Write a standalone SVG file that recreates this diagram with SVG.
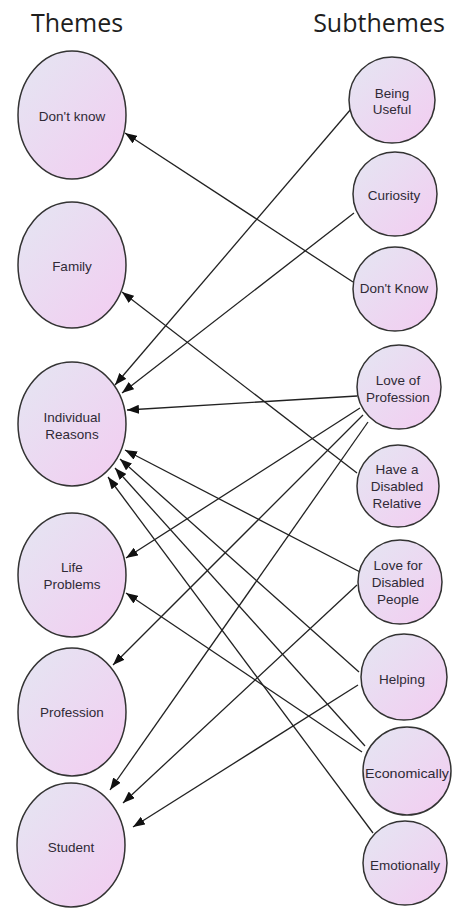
<svg xmlns="http://www.w3.org/2000/svg" width="453" height="909" viewBox="0 0 453 909">
  <defs>
    <linearGradient id="nodeFill" x1="0" y1="0" x2="1" y2="1">
      <stop offset="0" stop-color="#e4e6f2"/>
      <stop offset="1" stop-color="#f3ccf1"/>
    </linearGradient>
    <marker id="arrow" markerUnits="userSpaceOnUse" markerWidth="13" markerHeight="9" refX="12" refY="4.5" orient="auto">
      <path d="M0,0 L12,4.5 L0,9 z" fill="#111"/>
    </marker>
  </defs>
  <style>
    .node { fill: url(#nodeFill); stroke: #333; stroke-width: 1.5; }
    .label { font-family: "Liberation Sans", Arial, sans-serif; font-size: 13.5px; fill: #2f2a36; text-anchor: middle; }
    .head { font-family: "Open Sans", "Noto Sans", sans-serif; font-size: 25px; fill: #1e1e1e; text-anchor: middle; }
    .edge { stroke: #222; stroke-width: 1.3; fill: none; marker-end: url(#arrow); }
  </style>

  <rect width="453" height="909" fill="#fff"/>

  <text class="head" x="77" y="32">Themes</text>
  <text class="head" x="379" y="32">Subthemes</text>

  <!-- connectors: subtheme -> theme -->
  <g id="connectors">
    <line class="edge" x1="353" y1="282" x2="125" y2="133"/>
    <line class="edge" x1="351" y1="109" x2="115" y2="385"/>
    <line class="edge" x1="354" y1="213" x2="122" y2="393"/>
    <line class="edge" x1="357" y1="396" x2="127" y2="410"/>
    <line class="edge" x1="360" y1="408" x2="126" y2="558"/>
    <line class="edge" x1="363" y1="415" x2="113" y2="665"/>
    <line class="edge" x1="368" y1="422" x2="110" y2="790"/>
    <line class="edge" x1="357" y1="473" x2="122" y2="292"/>
    <line class="edge" x1="362" y1="573" x2="125" y2="450"/>
    <line class="edge" x1="357" y1="585" x2="123" y2="803"/>
    <line class="edge" x1="359" y1="672" x2="120" y2="459"/>
    <line class="edge" x1="358" y1="685" x2="133" y2="827"/>
    <line class="edge" x1="365" y1="746" x2="115" y2="468"/>
    <line class="edge" x1="362" y1="752" x2="126" y2="593"/>
    <line class="edge" x1="373" y1="833" x2="108" y2="477"/>
  </g>

  <!-- themes -->
  <g id="theme-dont-know">
    <ellipse class="node" cx="72" cy="115" rx="54" ry="64"/>
    <text class="label" x="72" y="120.5">Don't know</text>
  </g>
  <g id="theme-family">
    <ellipse class="node" cx="72" cy="265" rx="54" ry="63"/>
    <text class="label" x="72" y="270.5">Family</text>
  </g>
  <g id="theme-individual-reasons">
    <ellipse class="node" cx="72" cy="424" rx="54" ry="62"/>
    <text class="label" x="72" y="421.5">Individual</text>
    <text class="label" x="72" y="438.5">Reasons</text>
  </g>
  <g id="theme-life-problems">
    <ellipse class="node" cx="72" cy="575" rx="54" ry="62"/>
    <text class="label" x="72" y="571.5">Life</text>
    <text class="label" x="72" y="588.5">Problems</text>
  </g>
  <g id="theme-profession">
    <ellipse class="node" cx="72" cy="712" rx="54" ry="64"/>
    <text class="label" x="72" y="716.5">Profession</text>
  </g>
  <g id="theme-student">
    <ellipse class="node" cx="71" cy="845" rx="54" ry="62"/>
    <text class="label" x="71" y="851.5">Student</text>
  </g>

  <!-- subthemes -->
  <g id="sub-being-useful">
    <circle class="node" cx="392" cy="100" r="43"/>
    <text class="label" x="392" y="97.5">Being</text>
    <text class="label" x="392" y="113.5">Useful</text>
  </g>
  <g id="sub-curiosity">
    <circle class="node" cx="395" cy="194" r="42"/>
    <text class="label" x="394" y="199.5">Curiosity</text>
  </g>
  <g id="sub-dont-know">
    <circle class="node" cx="395" cy="289" r="42"/>
    <text class="label" x="394" y="292.5">Don't Know</text>
  </g>
  <g id="sub-love-of-profession">
    <circle class="node" cx="399" cy="387" r="42"/>
    <text class="label" x="398" y="384.5">Love of</text>
    <text class="label" x="398" y="401.5">Profession</text>
  </g>
  <g id="sub-disabled-relative">
    <circle class="node" cx="398" cy="486" r="41"/>
    <text class="label" x="397" y="473.5">Have a</text>
    <text class="label" x="397" y="490.5">Disabled</text>
    <text class="label" x="397" y="507.5">Relative</text>
  </g>
  <g id="sub-love-for-disabled">
    <circle class="node" cx="400" cy="582" r="42"/>
    <text class="label" x="398" y="569.5">Love for</text>
    <text class="label" x="398" y="586.5">Disabled</text>
    <text class="label" x="398" y="603.5">People</text>
  </g>
  <g id="sub-helping">
    <circle class="node" cx="404" cy="677" r="43"/>
    <text class="label" x="402" y="683.5">Helping</text>
  </g>
  <g id="sub-economically">
    <circle class="node" cx="407" cy="771" r="44"/>
    <text class="label" x="407" y="777.5" textLength="84" lengthAdjust="spacingAndGlyphs">Economically</text>
  </g>
  <g id="sub-emotionally">
    <circle class="node" cx="405" cy="863" r="42"/>
    <text class="label" x="405" y="869.5">Emotionally</text>
  </g>
</svg>
